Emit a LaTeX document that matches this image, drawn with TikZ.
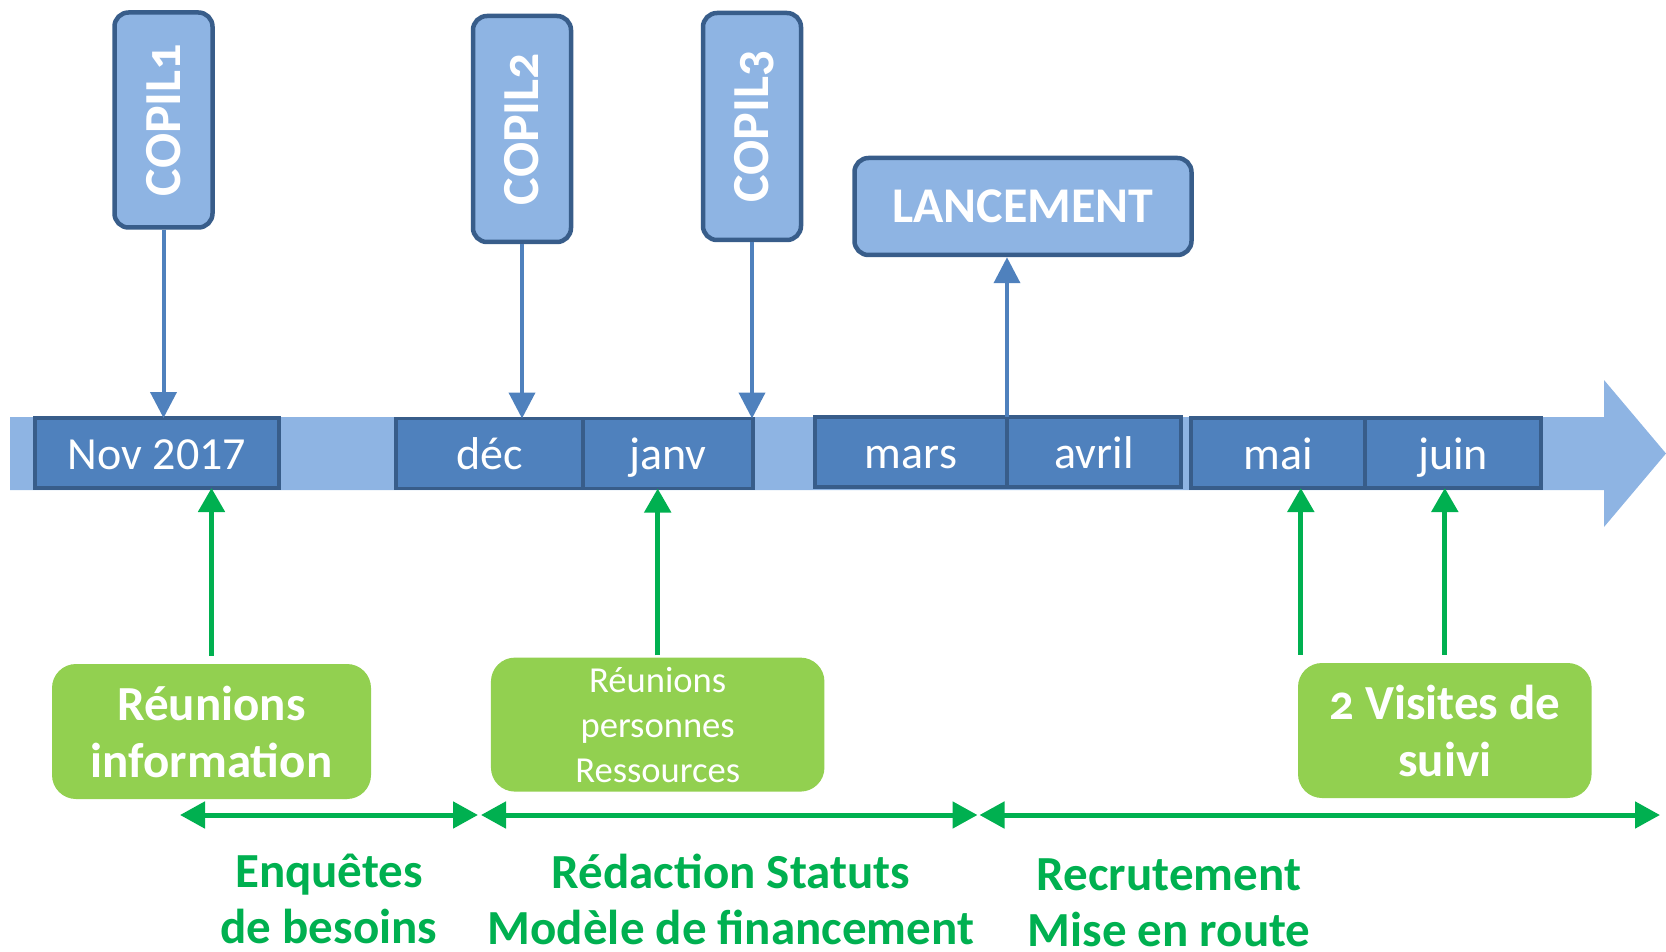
\documentclass[tikz,border=0pt]{standalone}
\usepackage{fontspec}
\setmainfont{Carlito}
\newfontfamily\oldnum[Numbers=OldStyle]{Carlito}
\usetikzlibrary{positioning,arrows.meta}
\definecolor{bandblue}{HTML}{8EB4E3}
\definecolor{monthblue}{HTML}{4F81BD}
\definecolor{edgeblue}{HTML}{385D8A}
\definecolor{boxgreen}{HTML}{92D050}
\definecolor{linegreen}{HTML}{00B050}

\begin{document}
\begin{tikzpicture}[
    x=1pt, y=-1pt,
    month/.style={rectangle, draw=edgeblue, line width=3.5pt, fill=monthblue, text=white, minimum height=70pt, inner sep=0pt, outer sep=0pt, text height=35pt, text depth=3pt, font=\fontsize{46}{55}\selectfont},
    copil/.style={rectangle, rounded corners=14pt, draw=edgeblue, line width=4.5pt, fill=bandblue, text=white, rotate=90, minimum height=98pt, inner sep=0pt, text height=33pt, text depth=0pt, font=\oldnum\bfseries\fontsize{52}{60}\selectfont},
    jalon/.style={rectangle, rounded corners=14pt, draw=edgeblue, line width=4.5pt, fill=bandblue, text=white, minimum width=337pt, minimum height=97pt, inner sep=0pt, font=\bfseries\fontsize{50}{60}\selectfont},
    action/.style={rectangle, rounded corners=24pt, fill=boxgreen, text=white, align=center, inner sep=0pt, minimum height=135pt},
    phase/.style={text=linegreen, align=center, font=\bfseries\fontsize{49}{56}\selectfont},
    arrow/.style={draw=monthblue, line width=4pt, -{Triangle[length=26pt,width=26pt]}},
    garrow/.style={draw=linegreen, line width=5pt, -{Triangle[length=24pt,width=26pt]}},
    span/.style={draw=linegreen, line width=5pt, {Triangle[length=25pt,width=26pt]}-{Triangle[length=25pt,width=26pt]}}
]
    \useasboundingbox (0,0) rectangle (1666,952);

    % Bandeau de la frise
    \fill[bandblue] (10,417) -- (1604,417) -- (1604,380) -- (1666,453.5) -- (1604,527) -- (1604,490) -- (10,490) -- cycle;

    % Les mois
    \node[month, minimum width=244pt] (nov) at (157,453) {Nov 2017};
    \node[month, minimum width=187pt] (dec) at (489.5,453.5) {déc};
    \node[month, minimum width=170pt, right=0pt of dec] (janv) {janv};
    \node[month, minimum width=192pt] (mars) at (911,452) {mars};
    \node[month, minimum width=174pt, right=0pt of mars] (avril) {avril};
    \node[month, minimum width=174pt] (mai) at (1278,453) {mai};
    \node[month, minimum width=176pt, right=0pt of mai] (juin) {juin};

    % Comites de pilotage et lancement
    \node[copil, minimum width=215pt] (copil1) at (163.5,120) {COPIL1};
    \node[copil, minimum width=226pt] (copil2) at (522,129) {COPIL2};
    \node[copil, minimum width=227pt] (copil3) at (752,126.5) {COPIL3};
    \node[jalon] (lancement) at (1023,206.5) {LANCEMENT};

    \draw[arrow] (copil1.west) -- (copil1.west |- nov.north);
    \draw[arrow] (copil2.west) -- (copil2.west |- dec.north);
    \draw[arrow] (copil3.west) -- (copil3.west |- janv.north);
    \draw[arrow] (mars.north east) -- (mars.north east |- lancement.south);

    % Actions sous la frise
    \node[action, minimum width=319pt, font=\bfseries\fontsize{49}{57}\selectfont] (ri) at (211.5,731.5) {Réunions\\information};
    \node[action, minimum width=333.5pt, minimum height=134pt, font=\fontsize{36.6}{45}\selectfont] (rpr) at (657.7,724.6) {Réunions\\personnes\\Ressources};
    \node[action, minimum width=293.6pt, font=\oldnum\bfseries\fontsize{49}{57}\selectfont] (vs) at (1444.8,730.5) {2 Visites de\\suivi};

    \coordinate (vsl) at ([xshift=3pt,yshift=8pt]vs.north west);
    \draw[garrow] ([yshift=8pt]ri.north) -- (ri.north |- nov.south);
    \draw[garrow] ([yshift=2pt]rpr.north) -- (rpr.north |- janv.south);
    \draw[garrow] (vsl) -- (vsl |- mai.south);
    \draw[garrow] ([yshift=8pt]vs.north) -- (vs.north |- juin.south);

    % Phases
    \coordinate (t0) at (180,815);
    \coordinate (t1) at (479.5,815);
    \coordinate (t2) at (978.5,815);
    \coordinate (t3) at (1660,815);
    \draw[span, shorten >=1.5pt] (t0) -- (t1);
    \draw[span, shorten <=1.5pt, shorten >=1pt] (t1) -- (t2);
    \draw[span, shorten <=1pt] (t2) -- (t3);

    \node[phase] (enq) at (329,899) {Enquêtes\\de besoins};
    \node[phase] (red) at (731,899) {Rédaction Statuts\\Modèle de financement};
    \node[phase] (rec) at (1169,903) {Recrutement\\Mise en route};
\end{tikzpicture}
\end{document}
